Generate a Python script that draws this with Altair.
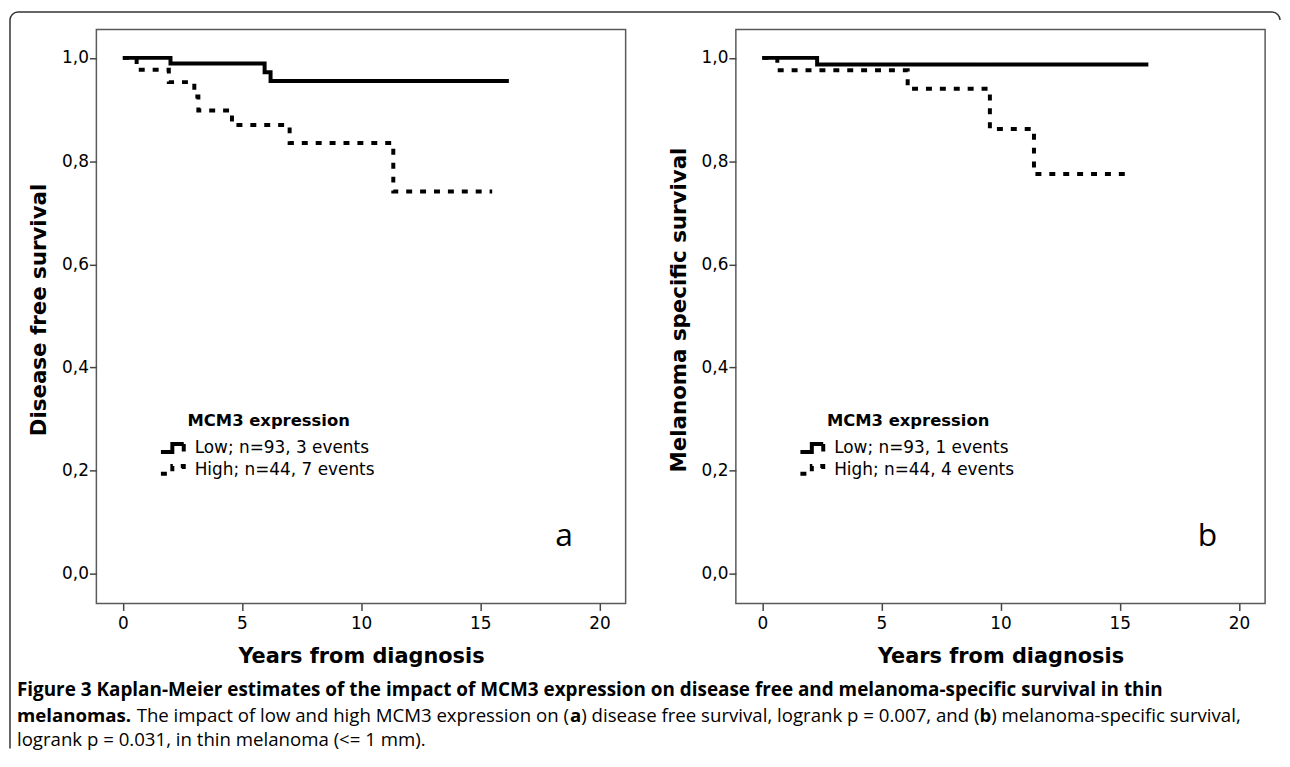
import altair as alt
import pandas as pd

# ---------------- data ----------------
a_low_years = [0.0, 2.0, 5.95, 6.2, 16.2]
a_low_surv = [1.0, 0.989, 0.972, 0.955, 0.955]
a_high_years = [0.0, 0.58, 1.93, 3.0, 3.17, 4.58, 7.0, 11.35, 15.5]
a_high_surv = [1.0, 0.977, 0.953, 0.925, 0.898, 0.870, 0.835, 0.741, 0.741]

b_low_years = [0.0, 2.3, 16.2]
b_low_surv = [1.0, 0.987, 0.987]
b_high_years = [0.0, 0.63, 6.1, 9.55, 11.4, 15.5]
b_high_surv = [1.0, 0.976, 0.940, 0.862, 0.775, 0.775]

a_groups = ["Low; n=93, 3 events", "High; n=44, 7 events"]
b_groups = ["Low; n=93, 1 events", "High; n=44, 4 events"]

x_ticks = [0, 5, 10, 15, 20]
y_ticks = [0.0, 0.2, 0.4, 0.6, 0.8, 1.0]

a_ytitle = "Disease free survival"
b_ytitle = "Melanoma specific survival"
x_title = "Years from diagnosis"
legend_title = "MCM3 expression"

cap_line1 = ("Figure 3 Kaplan-Meier estimates of the impact of MCM3 expression on "
             "disease free and melanoma-specific survival in thin")
cap_line2 = [("melanomas.", True), (" ", False),
             ("The impact of low and high MCM3 expression on (", False), ("a", True),
             (") disease free survival, logrank p = 0.007, and (", False), ("b", True),
             (") melanoma-specific survival,", False)]
cap_line3 = "logrank p = 0.031, in thin melanoma (<= 1 mm)."

# ---------------- layout ----------------
W, H = 533, 578
X_DOMAIN = [-1.11, 21.1]
Y_DOMAIN = [-0.057, 1.055]
SYM = "M-1.5625,0.5H-0.125V-0.5H1.3125V0.44"

REG = {' ': 532, 'a': 1139, 'b': 1255, 'c': 975, 'd': 1255, 'e': 1149, 'f': 694, 'g': 1122,
       'h': 1257, 'i': 518, 'j': 518, 'k': 1075, 'l': 518, 'm': 1905, 'n': 1257, 'o': 1237,
       'p': 1255, 'q': 1255, 'r': 836, 's': 977, 't': 723, 'u': 1257, 'v': 1026, 'w': 1593,
       'x': 1073, 'y': 1028, 'z': 977, 'M': 1849, 'C': 1292, 'T': 1124, 'F': 1057, 'K': 1208,
       '(': 586, ')': 586, ',': 502, '.': 545, '-': 659, '=': 1171, '<': 1171, ';': 545}
BOLD = {' ': 532, 'a': 1200, 'b': 1255, 'c': 1006, 'd': 1255, 'e': 1188, 'f': 780, 'g': 1118,
        'h': 1305, 'i': 606, 'k': 1255, 'l': 606, 'm': 1958, 'n': 1305, 'o': 1247, 'p': 1255,
        'r': 895, 's': 1001, 't': 819, 'u': 1305, 'v': 1151, 'w': 1700, 'x': 1176, 'y': 1151,
        'M': 1845, 'C': 1292, 'F': 1141, 'K': 1339, '-': 659, '.': 584, ',': 586}


def tw(s, bold, size):
    table = BOLD if bold else REG
    return sum(table.get(ch, 1171 if ch.isdigit() else 1150) for ch in s) / 2048.0 * size


CAP_X = -80  # relative to left plot origin
size1 = 1147 / tw(cap_line1, True, 1)
size2 = 1222 / sum(tw(t, b, 1) for t, b in cap_line2)
CAP_SIZE = round((size1 + size2) / 2, 2)
CAP_SIZE2 = round(CAP_SIZE * 0.987, 2)
CAP_Y = [671, 697, 722]

one = pd.DataFrame({"k": [0]})


def frame(lt, ls, ht, hs, groups):
    rows = [{"year": t, "surv": s, "group": groups[0]} for t, s in zip(lt, ls)]
    rows += [{"year": t, "surv": s, "group": groups[1]} for t, s in zip(ht, hs)]
    return pd.DataFrame(rows)


def panel(df, groups, ytitle, letter, letter_x, extra=()):
    leg = alt.Legend(title=legend_title, orient="none", legendX=67.5, legendY=386, padding=0,
                     titleFont="DejaVu Sans", titleFontSize=16.5, titleFontWeight="bold",
                     titleColor="black", titleAnchor="middle", titlePadding=9,
                     labelFont="DejaVu Sans", labelFontSize=17, labelColor="black",
                     labelLimit=400, labelOffset=11.5, rowPadding=-3, symbolType=SYM,
                     symbolSize=256, symbolStrokeWidth=4, symbolStrokeColor="black",
                     symbolFillColor="transparent")
    lines = alt.Chart(df).mark_line(interpolate="step-after", strokeWidth=4, color="black",
                                    strokeCap="butt").encode(
        x=alt.X("year:Q", scale=alt.Scale(domain=X_DOMAIN, nice=False, zero=False),
                axis=alt.Axis(values=x_ticks, format="d", title=x_title, titleX=W / 2,
                              titleY=59, titleAlign="center", titleBaseline="alphabetic",
                              titleFontSize=21, labelPadding=5)),
        y=alt.Y("surv:Q", scale=alt.Scale(domain=Y_DOMAIN, nice=False, zero=False),
                axis=alt.Axis(values=y_ticks,
                              labelExpr="replace(format(datum.value, '.1f'), '.', ',')",
                              title=ytitle, titleX=-57, titleY=282, titleAngle=270,
                              titleAlign="center", titleBaseline="middle",
                              titleFontSize=21.5, labelPadding=1)),
        strokeDash=alt.StrokeDash("group:N",
                                  scale=alt.Scale(domain=groups, range=[[1, 0], [6, 8]]),
                                  legend=leg),
    )
    lab = alt.Chart(one).mark_text(text=letter, font="Open Sans", fontSize=32, align="center",
                                   baseline="alphabetic", color="black").encode(
        x=alt.value(letter_x), y=alt.value(520))
    return alt.layer(lines, lab, *extra).properties(width=W, height=H)


# ---------------- caption and border (annotations) ----------------
extra = []
BC = "#333333"
extra.append(alt.Chart(one).mark_rule(color=BC, strokeWidth=1.5).encode(
    x=alt.value(-79), x2=alt.value(1184), y=alt.value(-17.5)))
extra.append(alt.Chart(one).mark_rule(color=BC, strokeWidth=1.5).encode(
    x=alt.value(-87), y=alt.value(-9.5), y2=alt.value(724)))
extra.append(alt.Chart(one).mark_arc(radius=8.75, radius2=7.25, theta=4.712389,
                                     theta2=6.283185, color=BC).encode(
    x=alt.value(-79), y=alt.value(-9.5)))
extra.append(alt.Chart(one).mark_arc(radius=8.75, radius2=7.25, theta=0.0,
                                     theta2=1.570796, color=BC).encode(
    x=alt.value(1184), y=alt.value(-9.5)))

extra.append(alt.Chart(one).mark_text(text=cap_line1, font="Open Sans", fontSize=CAP_SIZE,
                                      fontWeight="bold", align="left", baseline="alphabetic",
                                      color="black").encode(
    x=alt.value(CAP_X), y=alt.value(CAP_Y[0])))
xpos = CAP_X
for txt, bold in cap_line2:
    if txt.strip():
        extra.append(alt.Chart(one).mark_text(
            text=txt, font="Open Sans", fontSize=CAP_SIZE2,
            fontWeight="bold" if bold else "normal", align="left", baseline="alphabetic",
            color="black").encode(x=alt.value(round(xpos, 2)), y=alt.value(CAP_Y[1])))
    xpos += tw(txt, bold, CAP_SIZE2) * (1.03 if bold else 1.0)
extra.append(alt.Chart(one).mark_text(text=cap_line3, font="Open Sans", fontSize=CAP_SIZE2,
                                      align="left", baseline="alphabetic",
                                      color="black").encode(
    x=alt.value(CAP_X), y=alt.value(CAP_Y[2])))

left = panel(frame(a_low_years, a_low_surv, a_high_years, a_high_surv, a_groups),
             a_groups, a_ytitle, "a", 471, extra)
right = panel(frame(b_low_years, b_low_surv, b_high_years, b_high_surv, b_groups),
              b_groups, b_ytitle, "b", 475)

chart = alt.hconcat(left, right, spacing=111, bounds="flush").resolve_scale(
    strokeDash="independent").properties(padding=0, background="white").configure_view(
    stroke="#5a5a5a", strokeWidth=1.5).configure_axis(
    grid=False, domain=False, tickColor="#444444", tickWidth=1.5, tickSize=7,
    labelFont="DejaVu Sans", labelFontSize=17, labelColor="black",
    titleFont="DejaVu Sans", titleFontWeight="bold", titleColor="black")

chart.save("out.html", embed_options={"renderer": "svg", "actions": False})
